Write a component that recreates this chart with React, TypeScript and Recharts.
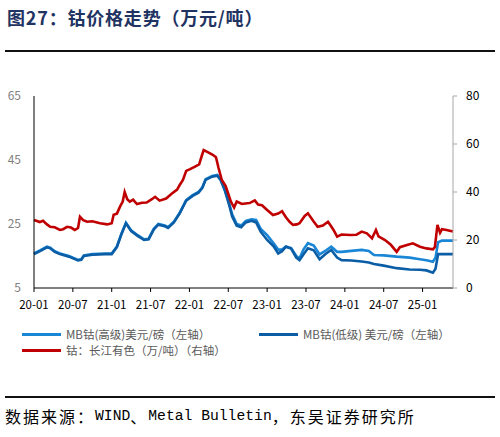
import React from 'react';
import { LineChart, Line, XAxis, YAxis } from 'recharts';

// months since 2020-01 and the labels shown under the x axis
const xTicks = [0, 6, 12, 18, 24, 30, 36, 42, 48, 54, 60];
const xLabels = ['20-01', '20-07', '21-01', '21-07', '22-01', '22-07', '23-01', '23-07', '24-01', '24-07', '25-01'];
const leftTicks = [5, 25, 45, 65];
const rightTicks = [0, 20, 40, 60, 80];

// MB cobalt, USD/lb (left axis)
const blueT = [
  0, 1, 2, 2.5, 3.2, 4, 5.4, 6.8, 7.3, 7.7, 9, 11, 12, 12.8, 13.5, 14.2, 15, 16, 17, 17.7,
  18.5, 19.2, 20.2, 20.7, 21.6, 22.5, 23.5, 24.5, 25.4, 26, 26.5, 27.5, 28.3, 28.8, 29.5, 30.2, 30.6, 31.3, 32, 32.7,
  33.6, 34.3, 35, 36, 37, 37.7, 38.3, 38.9, 39.7, 40.5, 41, 41.6, 42.3, 43.2, 44.1, 45.1, 45.9, 46.8, 47.5, 49,
  50.6, 51.7, 52.5, 54, 56, 58, 59.6, 60.6, 61.6, 62, 62.4, 63, 64.7,
];
const highGrade = [
  15.8, 16.8, 17.9, 17.6, 16.5, 15.8, 15, 13.8, 14, 15.2, 15.6, 15.8, 15.8, 18, 22, 25.4, 23, 21.5, 20.2, 20.4,
  23.5, 25, 24.5, 24, 25.7, 28.5, 32.5, 34, 35, 36.5, 39, 40, 40.3, 39, 35.5, 31, 28, 25, 24.5, 26,
  26.5, 26.3, 23.5, 21.5, 19, 17, 17, 18, 17.5, 15, 14.3, 17, 19, 18.3, 15.5, 16.8, 17.9, 16.3, 16.3, 16.6,
  16.9, 16.6, 15.3, 15.2, 14.8, 14.5, 14, 13.7, 13.2, 14.5, 19.3, 19.8, 19.8,
];
const lowGrade = [
  15.6, 16.6, 17.7, 17.4, 16.3, 15.6, 14.8, 13.6, 13.8, 15, 15.4, 15.6, 15.6, 17.8, 21.8, 25.2, 22.8, 21.3, 20, 20.2,
  23.3, 24.8, 24.3, 23.8, 25.5, 28.3, 32.3, 33.8, 34.8, 36.3, 38.8, 39.8, 40.1, 38.8, 35.3, 30.5, 27.3, 24.5, 24, 25.5,
  26, 25.5, 22.6, 20, 18, 15.8, 16.5, 17.9, 17.3, 14.5, 13.7, 15.5, 17.4, 16.8, 14, 15.8, 16.9, 14.5, 13.7, 13.6,
  13.3, 13, 12.5, 12, 11.2, 10.8, 10.7, 10.5, 9.8, 11, 15.6, 15.6, 15.6,
];

// Changjiang cobalt, 10k CNY/t (right axis)
const redT = [
  0, 0.9, 1.4, 2, 2.5, 3.2, 4, 4.5, 5.1, 5.7, 6.3, 6.8, 7.1, 7.6, 8.2, 9, 10.2, 11.3, 12, 12.3,
  12.8, 13.3, 13.7, 14, 14.4, 14.8, 15.3, 15.9, 16.7, 17.4, 18.2, 18.7, 19.4, 20.4, 21.3, 22.1, 22.5, 23, 23.5, 24.1,
  24.8, 25.5, 25.9, 26.2, 26.9, 27.6, 28.1, 28.5, 29, 29.6, 29.9, 30.4, 30.9, 31.3, 32.1, 32.9, 33.3, 34.1, 34.6, 35.2,
  36, 36.9, 37.7, 38.3, 38.9, 39.5, 40, 40.6, 41, 41.8, 42.3, 43.1, 43.8, 44.6, 45.4, 45.8, 46.3, 46.8, 47.5, 48.8,
  49.8, 50.6, 51.4, 52.2, 52.8, 53.2, 54.2, 55.1, 56, 56.5, 57.6, 58.5, 59.6, 60.6, 61.6, 61.9, 62.3, 62.7, 63, 63.7,
  64.7,
];
const changjiang = [
  28.3, 27.5, 28, 26.5, 25.5, 25.3, 24.2, 24.5, 25.5, 25.2, 24.2, 25, 29.7, 28.3, 27.6, 27.8, 27, 26.5, 27, 30.5,
  31, 34, 36, 40, 37, 36, 36.8, 35, 35.5, 35.6, 37, 38, 36.4, 37.3, 39.4, 41, 42.9, 45, 48.8, 49.5,
  50.5, 51.5, 55, 57.5, 56.5, 55.5, 54.5, 50, 45, 42.5, 40, 36, 33.5, 36, 35, 35.3, 35.4, 36.5, 34.8, 34.5,
  32.5, 30.4, 31, 32, 29.5, 27.5, 26.3, 26.5, 27, 30, 31.1, 28, 25.5, 26, 27.6, 26, 24, 21.4, 22.3, 22.1,
  22.2, 23.5, 22.8, 20.7, 24.2, 21.5, 20, 18, 15.1, 17, 17.9, 18.6, 17.2, 16.5, 16.1, 17, 26.3, 23, 24.5, 24.2,
  23.5,
];

const toPoints = (t: number[], v: number[]) => t.map((x, i) => ({ t: x, v: v[i] }));

const series = [
  { name: 'MB钴(高级)美元/磅（左轴）', color: '#1a86d6', axis: 'left', data: toPoints(blueT, highGrade) },
  { name: 'MB钴(低级) 美元/磅（左轴）', color: '#0b5ea6', axis: 'left', data: toPoints(blueT, lowGrade) },
  { name: '钴：长江有色（万/吨）（右轴）', color: '#c00000', axis: 'right', data: toPoints(redT, changjiang) },
];

const cjk = '"Noto Sans CJK SC", "Noto Sans", sans-serif';

// source line: CJK runs and monospace latin runs
const sourceParts = [
  { text: '数据来源：', latin: false },
  { text: 'WIND', latin: true },
  { text: '、', latin: false },
  { text: 'Metal Bulletin', latin: true },
  { text: '，东吴证券研究所', latin: false },
];

function LegendItem({ color, label, x, y }: { color: string; label: string; x: number; y: number }) {
  return (
    <div style={{ position: 'absolute', left: x, top: y - 9, height: 18, display: 'flex', alignItems: 'center' }}>
      <span style={{ display: 'inline-block', width: 39, height: 3, background: color, marginRight: 5 }} />
      <span style={{ fontSize: 11.5, color: '#595959', whiteSpace: 'nowrap', fontFamily: cjk }}>{label}</span>
    </div>
  );
}

export default function App() {
  return (
    <div style={{ position: 'relative', width: 500, height: 437, background: '#fff', overflow: 'hidden' }}>
      <style>{'body{margin:0}'}</style>
      <div
        style={{
          position: 'absolute',
          left: 7,
          top: 4,
          fontSize: 18,
          fontWeight: 700,
          letterSpacing: 0.8,
          color: '#1f3462',
          fontFamily: cjk,
          whiteSpace: 'nowrap',
        }}
      >
        图27：钴价格走势（万元/吨）
      </div>
      <div style={{ position: 'absolute', left: 5, top: 50, width: 490, height: 2, background: '#111' }} />

      <div style={{ position: 'absolute', left: 0, top: 0 }}>
        <LineChart width={500} height={320} margin={{ top: 96, right: 7, bottom: 7, left: 4 }}>
          <XAxis
            dataKey="t"
            type="number"
            domain={[0, 64.7]}
            ticks={xTicks}
            tickFormatter={(v: number) => xLabels[xTicks.indexOf(v)] ?? ''}
            allowDuplicatedCategory={false}
            height={25}
            stroke="#000"
            tickSize={4}
            tickMargin={9}
            tick={{ fill: '#000', fontSize: 11.5, fontFamily: cjk }}
          />
          <YAxis
            yAxisId="left"
            orientation="left"
            width={30}
            domain={[5, 65]}
            ticks={leftTicks}
            stroke="#000"
            tickLine={false}
            tickSize={0}
            tickMargin={13}
            tick={{ fill: '#7f7f7f', fontSize: 12, fontFamily: cjk }}
          />
          <YAxis
            yAxisId="right"
            orientation="right"
            width={40}
            domain={[0, 80]}
            ticks={rightTicks}
            stroke="#a6a6a6"
            tickSize={4}
            tickMargin={9}
            tick={{ fill: '#000', fontSize: 12, fontFamily: cjk }}
          />
          {series.map((s) => (
            <Line
              key={s.name}
              data={s.data}
              dataKey="v"
              yAxisId={s.axis}
              type="linear"
              stroke={s.color}
              strokeWidth={2.6}
              dot={false}
              isAnimationActive={false}
            />
          ))}
        </LineChart>
      </div>

      <LegendItem color={series[0].color} label={series[0].name} x={22} y={334} />
      <LegendItem color={series[1].color} label={series[1].name} x={259} y={334} />
      <LegendItem color={series[2].color} label={series[2].name} x={22} y={350} />

      <div style={{ position: 'absolute', left: 5, top: 396, width: 490, height: 2, background: '#111' }} />
      <div
        style={{
          position: 'absolute',
          left: 5,
          top: 405,
          height: 22,
          display: 'flex',
          alignItems: 'center',
          color: '#000',
          whiteSpace: 'nowrap',
        }}
      >
        {sourceParts.map((p, i) => (
          <span
            key={i}
            style={
              p.latin
                ? { fontFamily: '"Liberation Mono", monospace', fontSize: 14.7 }
                : { fontFamily: cjk, fontSize: 16, letterSpacing: 2 }
            }
          >
            {p.text}
          </span>
        ))}
      </div>
    </div>
  );
}
